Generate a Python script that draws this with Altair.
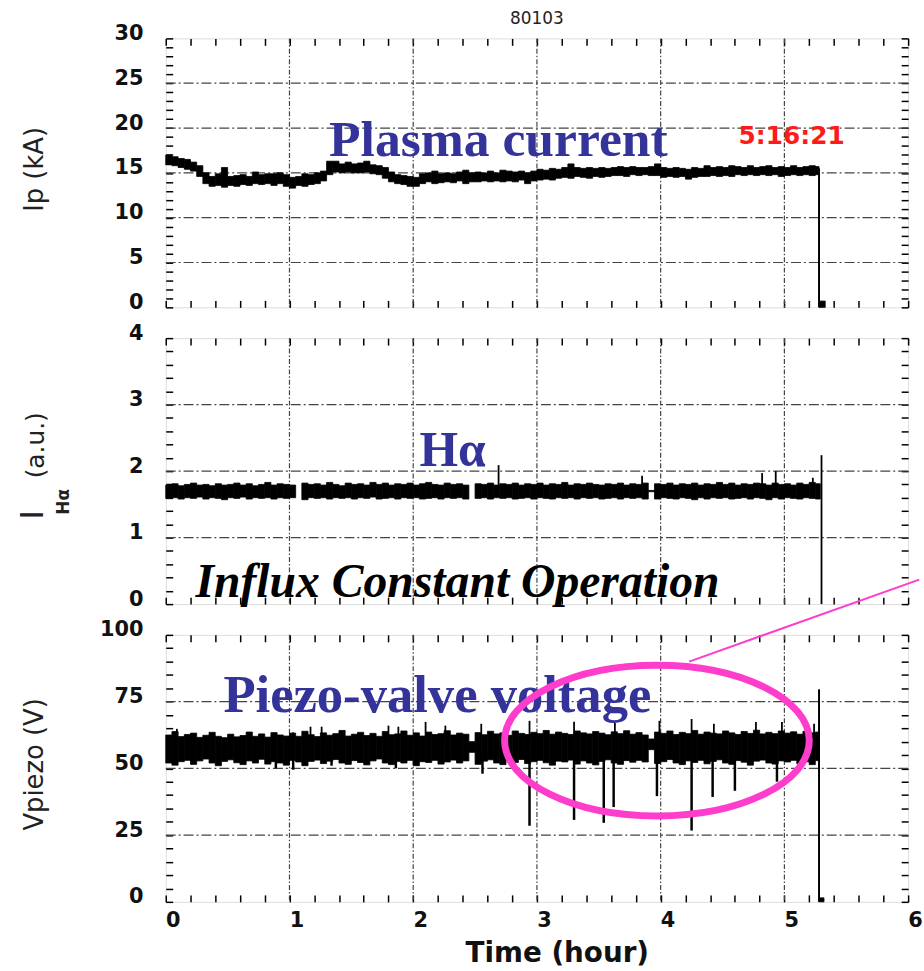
import altair as alt
import pandas as pd

# ---------------------------------------------------------------------------
# Discharge #80103 : long-pulse record, three stacked traces vs. time (hour)
# ---------------------------------------------------------------------------
STEP = 0.05
t_blocks = [round(i * STEP, 2) for i in range(106)]  # block starts 0.00 ... 5.25 h

# Plasma current Ip (kA): lower / upper edge of the noisy trace per block
ip_lo = [15.9, 15.8, 15.6, 15.4, 15.2, 14.6, 13.8, 13.5, 13.6, 13.4,
         13.6, 13.5, 13.7, 13.6, 13.8, 13.7, 13.8, 13.6, 13.8, 13.5,
         13.3, 13.6, 13.5, 13.7, 13.8, 14.1, 14.8, 15.1, 15.0, 15.1,
         15.0, 15.0, 15.1, 14.9, 14.8, 14.4, 14.0, 13.8, 13.7, 13.5,
         13.5, 13.8, 14.0, 13.8, 13.9, 14.0, 13.9, 14.1, 13.8, 14.0,
         14.0, 14.1, 14.0, 14.1, 14.0, 14.1, 14.0, 14.2, 13.8, 14.1,
         14.2, 14.3, 14.2, 14.4, 14.5, 14.4, 14.6, 14.5, 14.4, 14.6,
         14.5, 14.6, 14.7, 14.7, 14.6, 14.8, 14.7, 14.8, 14.7, 14.7,
         14.5, 14.6, 14.5, 14.6, 14.3, 14.5, 14.6, 14.6, 14.7, 14.6,
         14.7, 14.6, 14.8, 14.7, 14.8, 14.7, 14.8, 14.7, 14.8, 14.6,
         14.7, 14.8, 14.7, 14.8, 14.7, 14.8]
ip_hi = [17.0, 16.8, 16.6, 16.5, 16.2, 15.8, 15.0, 14.6, 14.9, 15.6,
         14.6, 14.7, 14.8, 14.6, 15.1, 14.8, 14.9, 14.9, 15.0, 14.8,
         14.5, 14.6, 14.9, 14.8, 15.0, 15.2, 16.3, 16.3, 16.0, 16.2,
         16.0, 16.1, 16.3, 15.9, 15.8, 15.6, 15.1, 14.8, 14.7, 14.6,
         14.5, 14.9, 15.0, 15.2, 14.9, 15.0, 14.9, 15.1, 15.3, 15.0,
         15.1, 15.0, 15.2, 15.0, 15.3, 15.2, 15.1, 15.2, 15.0, 15.2,
         15.4, 15.3, 15.5, 15.4, 15.6, 16.0, 15.6, 15.5, 15.6, 15.5,
         15.6, 15.5, 15.6, 15.7, 15.6, 15.7, 15.6, 15.6, 15.7, 16.0,
         15.6, 15.5, 15.6, 15.5, 15.4, 15.6, 15.5, 15.8, 15.6, 15.7,
         15.6, 15.8, 15.7, 15.6, 15.8, 15.6, 15.7, 15.8, 15.6, 15.7,
         15.6, 15.8, 15.6, 15.7, 15.8, 15.7]
ip_end = 5.28
ip_drop_t, ip_drop_top = [5.28], [15.5]
ip_tail = [5.28, 5.33, 0.0, 0.7]

# H-alpha intensity (a.u.); None marks the short data gaps
ha_lo = [1.59, 1.60, 1.58, 1.60, 1.59, 1.61, 1.58, 1.60, 1.59, 1.57,
         1.60, 1.59, 1.61, 1.58, 1.60, 1.59, 1.60, 1.58, 1.60, 1.59,
         1.60, None, 1.57, 1.60, 1.59, 1.60, 1.58, 1.60, 1.59, 1.60,
         1.58, 1.60, 1.59, 1.61, 1.58, 1.59, 1.60, 1.58, 1.60, 1.59,
         1.60, 1.58, 1.59, 1.60, 1.58, 1.60, 1.59, 1.60, 1.58, None,
         1.59, 1.60, 1.58, 1.60, 1.59, 1.60, 1.58, 1.59, 1.60, 1.58,
         1.60, 1.59, 1.58, 1.60, 1.59, 1.60, 1.58, 1.60, 1.59, 1.60,
         1.58, 1.59, 1.60, 1.58, 1.60, 1.59, 1.60, 1.58, 1.69, 1.58,
         1.60, 1.59, 1.58, 1.60, 1.59, 1.57, 1.60, 1.58, 1.60, 1.59,
         1.60, 1.58, 1.59, 1.60, 1.58, 1.60, 1.59, 1.57, 1.60, 1.58,
         1.60, 1.59, 1.58, 1.60, 1.59, 1.58]
ha_hi = [1.79, 1.81, 1.78, 1.80, 1.82, 1.79, 1.80, 1.78, 1.81, 1.79,
         1.80, 1.82, 1.79, 1.81, 1.78, 1.80, 1.83, 1.79, 1.81, 1.80,
         1.79, None, 1.82, 1.80, 1.81, 1.79, 1.83, 1.80, 1.78, 1.82,
         1.80, 1.81, 1.79, 1.83, 1.80, 1.82, 1.79, 1.81, 1.80, 1.82,
         1.79, 1.81, 1.83, 1.80, 1.79, 1.82, 1.80, 1.81, 1.79, None,
         1.81, 1.80, 1.82, 1.79, 1.81, 1.80, 1.82, 1.79, 1.81, 1.80,
         1.82, 1.79, 1.81, 1.80, 1.83, 1.79, 1.81, 1.80, 1.82, 1.80,
         1.79, 1.81, 1.80, 1.82, 1.79, 1.81, 1.80, 1.82, 1.71, 1.81,
         1.80, 1.82, 1.79, 1.81, 1.80, 1.82, 1.79, 1.81, 1.80, 1.83,
         1.80, 1.82, 1.79, 1.81, 1.80, 1.82, 1.81, 1.79, 1.82, 1.80,
         1.81, 1.79, 1.82, 1.80, 1.83, 1.81]
ha_end = 5.29
ha_spike_t = [2.69, 3.85, 4.82, 4.93, 5.23, 5.30]
ha_spike_bot = [1.75, 1.75, 1.75, 1.75, 1.75, 0.0]
ha_spike_top = [2.09, 1.93, 1.97, 2.00, 1.90, 2.24]

# Piezo-valve voltage (V)
vp_lo = [52.0, 51.2, 52.5, 53.0, 51.5, 52.8, 53.5, 52.0, 51.0, 52.6,
         53.2, 52.1, 51.4, 52.8, 52.0, 53.4, 51.6, 52.5, 52.0, 51.2,
         53.0, 52.4, 51.0, 52.6, 53.1, 51.8, 52.7, 53.3, 52.0, 51.5,
         52.9, 52.2, 51.3, 52.8, 53.5, 52.0, 51.4, 52.6, 52.0, 53.0,
         51.0, 52.5, 52.2, 53.0, 51.6, 52.4, 53.1, 52.0, 52.8, 56.0,
         51.5, 52.7, 53.2, 52.0, 51.4, 52.9, 52.2, 53.3, 51.8, 52.5,
         53.0, 52.1, 51.2, 52.7, 52.4, 53.1, 51.6, 52.8, 52.0, 51.3,
         52.6, 53.2, 52.0, 51.5, 52.9, 52.3, 53.0, 52.4, 57.0, 51.8,
         52.5, 53.3, 52.0, 51.4, 52.8, 52.2, 53.0, 51.7, 52.6, 53.2,
         52.0, 51.5, 52.9, 52.3, 51.2, 52.7, 53.1, 52.0, 51.6, 52.8,
         52.4, 53.0, 51.8, 52.5, 51.4, 52.9]
vp_hi = [62.5, 63.8, 61.9, 62.7, 63.2, 61.6, 62.4, 63.5, 62.0, 61.5,
         62.8, 61.8, 62.3, 63.6, 62.0, 62.9, 61.7, 63.4, 62.5, 62.1,
         63.2, 62.0, 63.9, 62.6, 61.9, 63.3, 62.4, 63.0, 64.2, 62.1,
         62.8, 63.5, 62.3, 63.1, 62.0, 63.8, 62.6, 62.9, 64.0, 62.4,
         63.3, 62.1, 63.6, 62.7, 63.0, 64.1, 62.5, 63.2, 62.8, 60.0,
         63.4, 62.6, 63.9, 62.9, 63.3, 62.4, 64.0, 63.1, 62.7, 63.5,
         63.0, 64.2, 62.8, 63.6, 63.1, 62.7, 64.0, 63.3, 62.9, 63.8,
         63.2, 62.6, 63.7, 63.0, 64.1, 62.8, 63.4, 62.5, 61.0, 63.6,
         63.1, 64.0, 62.7, 63.5, 63.0, 64.2, 62.8, 63.6, 63.2, 62.9,
         64.0, 63.3, 62.7, 63.8, 63.1, 64.3, 62.9, 63.5, 63.0, 64.0,
         63.2, 63.7, 62.8, 63.9, 63.3, 63.6]
vp_end = 5.28
vp_up_t = [0.09, 1.03, 1.17, 1.26, 1.80, 1.88, 2.10, 2.26, 2.55, 2.94,
           3.30, 3.63, 3.99, 4.25, 4.43, 4.77, 4.98, 5.24]
vp_up_top = [64.8, 63.5, 65.6, 65.6, 66.0, 65.6, 67.4, 66.0, 66.7, 67.8,
             67.5, 67.0, 67.8, 68.5, 66.7, 67.4, 67.4, 66.7]
vp_down_t = [0.89, 1.03, 1.34, 1.86, 2.56, 2.94, 3.30, 3.54, 3.62, 3.97,
             4.25, 4.42, 4.60, 4.94]
vp_down_bot = [50.0, 49.5, 51.0, 50.0, 48.0, 28.5, 30.7, 29.6, 35.5, 39.6,
               26.7, 39.3, 41.6, 45.0]
vp_drop_t, vp_drop_top = [5.28], [79.6]
vp_tail = [5.28, 5.32, 0.0, 1.5]

# Highlight of the valve-voltage dips (ellipse centre, hour / V) and its leader
dip_centre = (3.97, 60.4)
leader_t = [4.23, 6.09]
leader_v = [90.0, 120.7]

# ---------------------------------------------------------------------------
BLUE = "#333399"
PINK = "#ff3dcc"
SANS = "DejaVu Sans"
SERIF = "Liberation Serif"
INSET = 7
W = 748

x_scale = alt.Scale(domain=[0, 6], nice=False, zero=False)
x_ticks = [round(i * 0.2, 1) for i in range(31)]
x_grid = [1, 2, 3, 4, 5]


def blocks(lo, hi, end, extra=None):
    rows = []
    for i, (t0, a, b) in enumerate(zip(t_blocks, lo, hi)):
        if a is None:
            continue
        t1 = end if i == len(t_blocks) - 1 else round(t0 + STEP, 2)
        rows.append({"t0": t0, "t1": t1, "lo": a, "hi": b})
    if extra:
        rows.append({"t0": extra[0], "t1": extra[1], "lo": extra[2], "hi": extra[3]})
    return pd.DataFrame(rows)


def rules(ts, bots, tops):
    return pd.DataFrame({"t": ts, "lo": bots, "hi": tops})


def left_axis(ticks, major, title=None, title_y=None):
    kw = dict(values=ticks, orient="left", offset=-INSET, tickSize=INSET,
              tickWidth=1.5, tickColor="black", domain=False, grid=False,
              labelExpr=f"datum.value % {major} === 0 ? format(datum.value, 'd') : ''",
              labelOverlap=False, labelPadding=23, labelFont=SANS,
              labelFontWeight="bold", labelFontSize=21, labelColor="#111",
              labelOffset=-5)
    if title:
        kw.update(title=title, titleX=-139, titleY=title_y, titleAngle=270,
                  titleAlign="center", titleBaseline="middle", titleFont=SANS,
                  titleFontSize=26, titleFontWeight="normal", titleColor="#222")
    else:
        kw["title"] = None
    return alt.Axis(**kw)


def plain_axis(ticks, orient):
    return alt.Axis(values=ticks, orient=orient, offset=-INSET, tickSize=INSET,
                    tickWidth=1.5, tickColor="black", domain=False, grid=False,
                    labels=False, title=None, minExtent=0)


def bottom_axis(with_labels):
    if not with_labels:
        return plain_axis(x_ticks, "bottom")
    return alt.Axis(values=x_ticks, orient="bottom", offset=-INSET, tickSize=INSET,
                    tickWidth=1.5, tickColor="black", domain=False, grid=False,
                    labelExpr="datum.value % 1 === 0 ? format(datum.value, 'd') : ''",
                    labelOverlap=False, labelFlush=False, labelPadding=8,
                    labelOffset=7, labelFont=SANS, labelFontWeight="bold",
                    labelFontSize=21, labelColor="#111",
                    title="Time (hour)", titleX=394, titleY=59, titleAlign="center",
                    titleBaseline="middle", titleFont=SANS, titleFontSize=28,
                    titleFontWeight="bold", titleColor="#111")


def panel(y_dom, y_ticks, major, y_grid, band, y_title=None, title_y=None,
          x_labels=False, height=270):
    y_scale = alt.Scale(domain=y_dom, nice=False, zero=False)
    xg = alt.Chart(pd.DataFrame({"t": x_grid})).mark_rule(
        color="#444", strokeWidth=1.2, strokeDash=[5, 2, 1.5, 2]
    ).encode(x=alt.X("t:Q", scale=x_scale, axis=bottom_axis(x_labels)))
    yg = alt.Chart(pd.DataFrame({"v": y_grid})).mark_rule(
        color="#444", strokeWidth=1.2, strokeDash=[10, 3, 2, 3]
    ).encode(y=alt.Y("v:Q", scale=y_scale,
                     axis=left_axis(y_ticks, major, y_title, title_y)))
    trace = alt.Chart(band).mark_rect(color="black", stroke="black", strokeWidth=0.8).encode(
        x=alt.X("t0:Q", scale=x_scale, axis=plain_axis(x_ticks, "top")),
        x2="t1:Q",
        y=alt.Y("lo:Q", scale=y_scale, axis=plain_axis(y_ticks, "right")),
        y2="hi:Q",
    )
    return y_scale, [xg, yg, trace], height


def spikes(df, y_scale, width=2.0):
    return alt.Chart(df).mark_rule(color="black", strokeWidth=width).encode(
        x=alt.X("t:Q", scale=x_scale, axis=None),
        y=alt.Y("lo:Q", scale=y_scale, axis=None),
        y2="hi:Q",
    )


def note(text, t, v, y_scale, **style):
    return alt.Chart(pd.DataFrame({"t": [t], "v": [v], "s": [text]})).mark_text(
        align="left", baseline="alphabetic", **style
    ).encode(
        x=alt.X("t:Q", scale=x_scale, axis=None),
        y=alt.Y("v:Q", scale=y_scale, axis=None),
        text="s:N",
    )


# ---- panel 1 : plasma current ---------------------------------------------
ys1, base1, h1 = panel([0, 30], list(range(31)), 5, [5, 10, 15, 20, 25],
                       blocks(ip_lo, ip_hi, ip_end, ip_tail),
                       y_title="Ip (kA)", title_y=131.5, height=271)
p1 = alt.layer(
    *base1,
    spikes(rules(ip_drop_t, [0.0], ip_drop_top), ys1),
    note("Plasma current", 1.32, 16.9, ys1, font=SERIF, fontSize=52,
         fontWeight="bold", color=BLUE),
    note("5:16:21", 4.63, 18.2, ys1, font=SANS, fontSize=25,
         fontWeight="bold", color="#ff1a1a"),
).properties(
    width=W, height=h1,
    title=alt.TitleParams("80103", font=SANS, fontSize=17, fontWeight="normal",
                          color="#222", offset=-6, anchor="middle"),
)

# ---- panel 2 : H-alpha ------------------------------------------------------
ys2, base2, h2 = panel([0, 4], [round(i * 0.2, 1) for i in range(21)], 1, [1, 2, 3],
                       blocks(ha_lo, ha_hi, ha_end), height=268)


def axis_piece(text, dx, dy, size, weight="normal"):
    return alt.Chart(pd.DataFrame({"s": [text]})).mark_text(
        angle=270, align="center", baseline="middle", font=SANS,
        fontSize=size, fontWeight=weight, color="#222"
    ).encode(x=alt.value(dx), y=alt.value(dy), text="s:N")


p2 = alt.layer(
    *base2,
    spikes(rules(ha_spike_t, ha_spike_bot, ha_spike_top), ys2, 1.8),
    note("H\u03b1", 2.05, 2.075, ys2, font=SERIF, fontSize=50,
         fontWeight="bold", color=BLUE),
    note("Influx Constant Operation", 0.24, 0.104, ys2, font=SERIF, fontSize=48,
         fontWeight="bold", fontStyle="italic", color="black"),
    axis_piece("I", -134, 178, 32),
    axis_piece("H\u03b1", -102, 165, 17, "bold"),
    axis_piece("(a.u.)", -131, 108, 25),
).properties(width=W, height=h2)

# ---- panel 3 : piezo-valve voltage -------------------------------------------
ys3, base3, h3 = panel([0, 100], list(range(0, 101, 5)), 25, [25, 50, 75],
                       blocks(vp_lo, vp_hi, vp_end, vp_tail),
                       y_title="Vpiezo (V)", title_y=130, x_labels=True, height=269)

ellipse_path = ("M -1 0 C -1 -0.2734 -0.5523 -0.495 0 -0.495 "
                "C 0.5523 -0.495 1 -0.2734 1 0 "
                "C 1 0.2734 0.5523 0.495 0 0.495 "
                "C -0.5523 0.495 -1 0.2734 -1 0 Z")

ring = alt.Chart(pd.DataFrame({"t": [dip_centre[0]], "v": [dip_centre[1]]})).mark_point(
    shape=ellipse_path, size=307 ** 2, filled=False, color=PINK,
    strokeWidth=7, opacity=1
).encode(
    x=alt.X("t:Q", scale=x_scale, axis=None),
    y=alt.Y("v:Q", scale=ys3, axis=None),
)
leader = alt.Chart(pd.DataFrame({"t": leader_t, "v": leader_v})).mark_line(
    color=PINK, strokeWidth=2, clip=False
).encode(
    x=alt.X("t:Q", scale=x_scale, axis=None),
    y=alt.Y("v:Q", scale=ys3, axis=None),
)

p3 = alt.layer(
    *base3,
    spikes(rules(vp_up_t, [62.0] * len(vp_up_t), vp_up_top), ys3, 1.8),
    spikes(rules(vp_down_t, vp_down_bot, [54.0] * len(vp_down_t)), ys3, 2.5),
    spikes(rules(vp_drop_t, [0.0], vp_drop_top), ys3, 2.0),
    note("Piezo-valve voltage", 0.466, 71.1, ys3, font=SERIF, fontSize=53,
         fontWeight="bold", color=BLUE),
    ring,
    leader,
).properties(width=W, height=h3)

chart = alt.vconcat(p1, p2, p3, spacing=31, bounds="flush").properties(
    padding={"left": 16, "top": 6, "right": 0, "bottom": 0}
).configure_view(stroke="black", strokeWidth=2).configure(background="white")

chart.save("out.html", embed_options={"renderer": "svg", "actions": False})
